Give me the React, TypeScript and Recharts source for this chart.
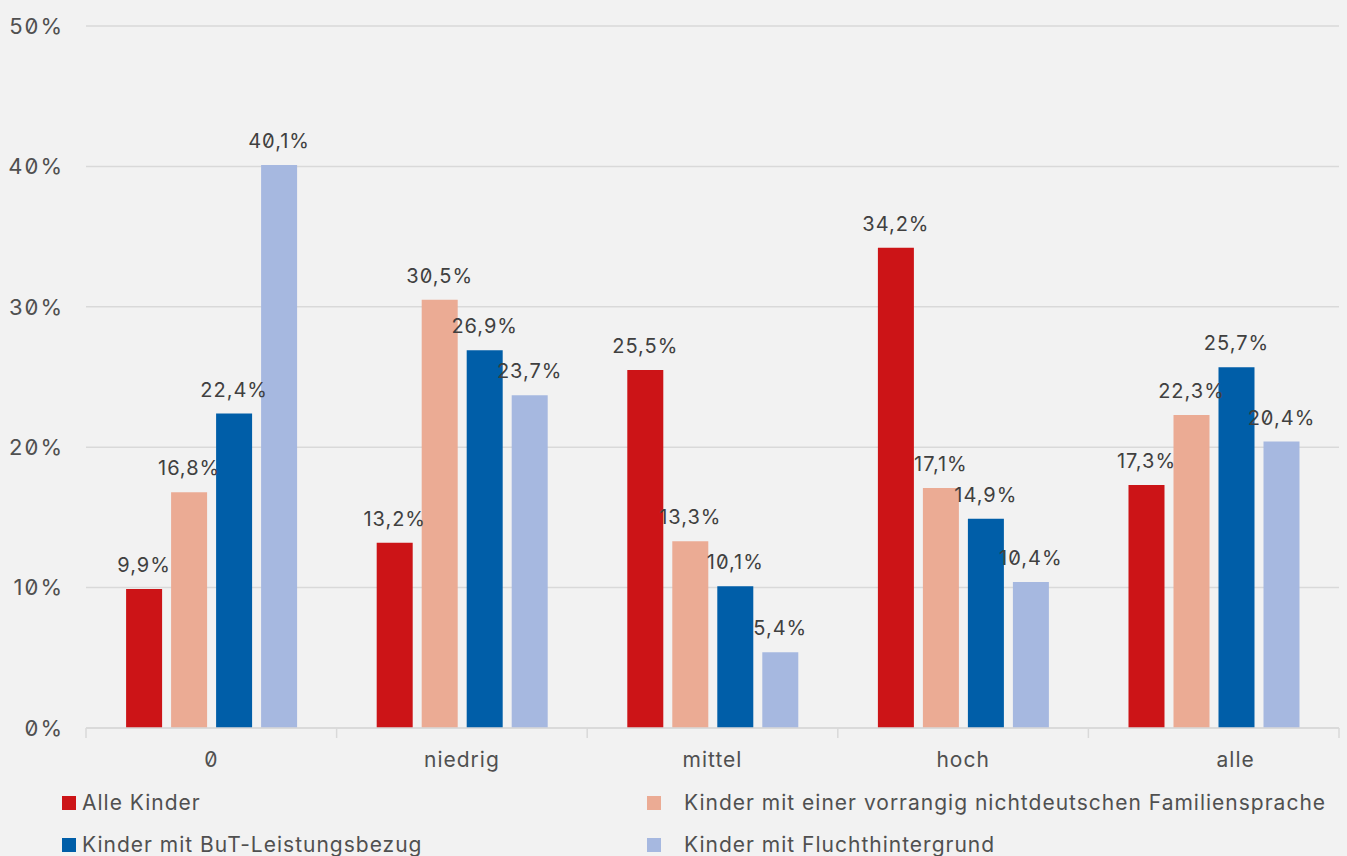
import { Bar, BarChart, CartesianGrid, LabelList, XAxis, YAxis } from "recharts";

const categories = ["0", "niedrig", "mittel", "hoch", "alle"];
const alleKinder = [9.9, 13.2, 25.5, 34.2, 17.3];
const familiensprache = [16.8, 30.5, 13.3, 17.1, 22.3];
const butBezug = [22.4, 26.9, 10.1, 14.9, 25.7];
const fluchthintergrund = [40.1, 23.7, 5.4, 10.4, 20.4];
const yTicks = [0, 10, 20, 30, 40, 50];

const series = [
  { key: "alle", name: "Alle Kinder", color: "#cc1417", values: alleKinder },
  { key: "sprache", name: "Kinder mit einer vorrangig nichtdeutschen Familiensprache", color: "#ebab94", values: familiensprache },
  { key: "but", name: "Kinder mit BuT-Leistungsbezug", color: "#005ea8", values: butBezug },
  { key: "flucht", name: "Kinder mit Fluchthintergrund", color: "#a6b8e0", values: fluchthintergrund },
];

const data = categories.map((c, i) => {
  const row: Record<string, string | number> = { cat: c };
  series.forEach((s) => (row[s.key] = s.values[i]));
  return row;
});

const FONT = "Inter, 'DejaVu Sans', sans-serif";
const numStyle = { fontVariantNumeric: "slashed-zero", fontFeatureSettings: "'zero' 1" };
const GRID = "#d9d9d9";
const TICK_OFFSET = 24; // tickSize + tickMargin of the category axis

const fmt = (v: number) => `${v.toFixed(1).replace(".", ",")}%`;

// category label plus the small separator ticks between the categories
function CatTick(props: any) {
  const { x, y, payload, index, visibleTicksCount } = props;
  const half = payload.offset ?? 0;
  const isLast = index === visibleTicksCount - 1;
  const top = y - TICK_OFFSET;
  return (
    <g>
      <line x1={x - half} x2={x - half} y1={top} y2={top + 10} stroke={GRID} strokeWidth={1.5} />
      {isLast && <line x1={x + half} x2={x + half} y1={top} y2={top + 10} stroke={GRID} strokeWidth={1.5} />}
      <text
        x={x + (isLast ? 22 : 0)}
        y={y}
        dy="0.71em"
        textAnchor="middle"
        fill="#505050"
        fontSize={21}
        letterSpacing={1}
        style={numStyle}
      >
        {payload.value}
      </text>
    </g>
  );
}

function LegendItem({ name, color, gap }: { name: string; color: string; gap: number }) {
  return (
    <div style={{ display: "flex", alignItems: "center" }}>
      <span style={{ display: "inline-block", width: 14, height: 14, background: color, marginRight: gap }} />
      <span>{name}</span>
    </div>
  );
}

export default function App() {
  return (
    <div
      style={{
        position: "absolute",
        left: 0,
        top: 0,
        width: 1347,
        height: 856,
        background: "#f2f2f2",
        fontFamily: FONT,
        overflow: "hidden",
      }}
    >
      <BarChart
        width={1347}
        height={780}
        data={data}
        margin={{ top: 26, right: 8, left: 0, bottom: 0 }}
        barCategoryGap="16%"
        barGap={9}
        style={{ fontFamily: FONT }}
      >
        <CartesianGrid vertical={false} stroke={GRID} strokeWidth={1.5} />
        <XAxis
          dataKey="cat"
          height={52}
          axisLine={{ stroke: GRID, strokeWidth: 1.5 }}
          tickLine={false}
          tickSize={6}
          tickMargin={18}
          tick={<CatTick />}
        />
        <YAxis
          width={86}
          domain={[0, 50]}
          ticks={yTicks}
          axisLine={false}
          tickLine={false}
          tickMargin={16}
          tickFormatter={(v: number) => `${v}%`}
          tick={{ fill: "#505050", fontSize: 22, letterSpacing: 2, style: numStyle }}
        />
        {series.map((s) => (
          <Bar key={s.key} dataKey={s.key} name={s.name} fill={s.color} isAnimationActive={false}>
            <LabelList
              dataKey={s.key}
              position="top"
              offset={17}
              formatter={(v: number) => fmt(v)}
              style={{ fill: "#404040", fontSize: 20, letterSpacing: 1, fontFamily: FONT, ...numStyle }}
            />
          </Bar>
        ))}
      </BarChart>
      <div
        style={{
          position: "absolute",
          left: 62,
          top: 789,
          display: "grid",
          gridTemplateColumns: "585px auto",
          rowGap: 14,
          fontSize: 21,
          letterSpacing: 1,
          color: "#505050",
          lineHeight: "28px",
        }}
      >
        <LegendItem name={series[0].name} color={series[0].color} gap={6} />
        <LegendItem name={series[1].name} color={series[1].color} gap={23} />
        <LegendItem name={series[2].name} color={series[2].color} gap={6} />
        <LegendItem name={series[3].name} color={series[3].color} gap={23} />
      </div>
    </div>
  );
}
